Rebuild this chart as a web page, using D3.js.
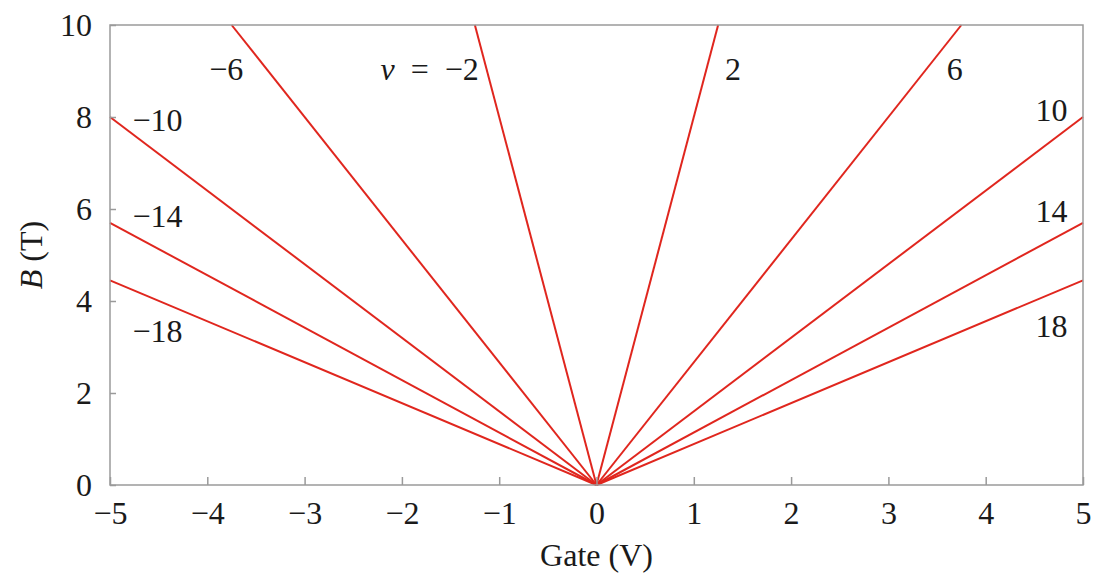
<!DOCTYPE html>
<html>
<head>
<meta charset="utf-8">
<script src="https://cdn.jsdelivr.net/npm/d3@7"></script>
<style>
  html, body { margin: 0; padding: 0; background: #fff; }
  svg { display: block; }
  text { font-family: "Liberation Serif", "DejaVu Serif", serif; fill: #1a1a1a; }
</style>
</head>
<body>
<svg id="chart" width="1094" height="578"></svg>
<script>
// Landau fan: filling factors and where each line leaves the plot window
const fillingFactors = [-18, -14, -10, -6, -2, 2, 6, 10, 14, 18];
const gateEnd = [-5, -5, -5, -3.75, -1.25, 1.25, 3.75, 5, 5, 5];
const fieldEnd = [4.45, 5.7, 8, 10, 10, 10, 10, 8, 5.7, 4.45];

const xTicks = [-5, -4, -3, -2, -1, 0, 1, 2, 3, 4, 5];
const yTicks = [0, 2, 4, 6, 8, 10];

const labelText = ["\u221218", "\u221214", "\u221210", "\u22126", "\u03bd\u2002=\u2002\u22122", "2", "6", "10", "14", "18"];

// label anchors in (gate, field) units, with text anchoring
const labelAt = [
  { g: -4.77, b: 3.11, anchor: "start" },
  { g: -4.77, b: 5.61, anchor: "start" },
  { g: -4.77, b: 7.70, anchor: "start" },
  { g: -3.98, b: 8.80, anchor: "start" },
  { g: -1.21, b: 8.80, anchor: "end" },
  { g: 1.32, b: 8.80, anchor: "start" },
  { g: 3.60, b: 8.80, anchor: "start" },
  { g: 4.84, b: 7.91, anchor: "end" },
  { g: 4.84, b: 5.72, anchor: "end" },
  { g: 4.84, b: 3.22, anchor: "end" }
];

const svg = d3.select("#chart");
const margin = { left: 110, right: 11, top: 25, bottom: 93 };
const W = 1094, H = 578;

const x = d3.scaleLinear().domain([-5, 5]).range([margin.left, W - margin.right]);
const y = d3.scaleLinear().domain([0, 10]).range([H - margin.bottom, margin.top]);

const axisColor = "#9a9a9a";
const lineColor = "#e0261e";
const fontSize = 32;

// fan lines from the origin
svg.append("g").selectAll("line")
  .data(fillingFactors.map((nu, i) => ({ nu, g: gateEnd[i], b: fieldEnd[i] })))
  .join("line")
  .attr("x1", x(0)).attr("y1", y(0))
  .attr("x2", d => x(d.g)).attr("y2", d => y(d.b))
  .attr("stroke", lineColor)
  .attr("stroke-width", 2);

// frame
svg.append("rect")
  .attr("x", x(-5)).attr("y", y(10))
  .attr("width", x(5) - x(-5)).attr("height", y(0) - y(10))
  .attr("fill", "none").attr("stroke", axisColor).attr("stroke-width", 1.5);

// bottom axis: inward ticks
const xAxis = d3.axisBottom(x).tickValues(xTicks).tickSizeInner(-8).tickSizeOuter(0)
  .tickPadding(16).tickFormat(d => d < 0 ? "\u2212" + Math.abs(d) : String(d));
const gx = svg.append("g").attr("transform", `translate(0,${y(0)})`).call(xAxis);
gx.select(".domain").remove();
gx.selectAll(".tick line").attr("stroke", axisColor).attr("stroke-width", 1.5);
gx.selectAll(".tick text").attr("font-size", fontSize).attr("fill", "#1a1a1a")
  .attr("font-family", "Liberation Serif, DejaVu Serif, serif");

// left axis: inward ticks
const yAxis = d3.axisLeft(y).tickValues(yTicks).tickSizeInner(-6).tickSizeOuter(0)
  .tickPadding(18).tickFormat(d3.format("d"));
const gy = svg.append("g").attr("transform", `translate(${x(-5)},0)`).call(yAxis);
gy.select(".domain").remove();
gy.selectAll(".tick line").attr("stroke", axisColor).attr("stroke-width", 1.5);
gy.selectAll(".tick text").attr("font-size", fontSize).attr("fill", "#1a1a1a")
  .attr("font-family", "Liberation Serif, DejaVu Serif, serif");

// line labels
svg.append("g").selectAll("text")
  .data(labelText.map((t, i) => ({ t, ...labelAt[i] })))
  .join("text")
  .attr("x", d => x(d.g)).attr("y", d => y(d.b))
  .attr("text-anchor", d => d.anchor)
  .attr("font-size", fontSize)
  .each(function (d) {
    const el = d3.select(this);
    if (d.t.startsWith("\u03bd")) {
      el.append("tspan").attr("font-style", "italic").text("\u03bd");
      el.append("tspan").text(d.t.slice(1));
    } else {
      el.text(d.t);
    }
  });

// axis titles
svg.append("text")
  .attr("x", (x(-5) + x(5)) / 2).attr("y", 566)
  .attr("text-anchor", "middle").attr("font-size", fontSize)
  .text("Gate (V)");

const yt = svg.append("text")
  .attr("transform", `translate(42,${(y(0) + y(10)) / 2}) rotate(-90)`)
  .attr("text-anchor", "middle").attr("font-size", fontSize);
yt.append("tspan").attr("font-style", "italic").text("B");
yt.append("tspan").text(" (T)");
</script>
</body>
</html>
